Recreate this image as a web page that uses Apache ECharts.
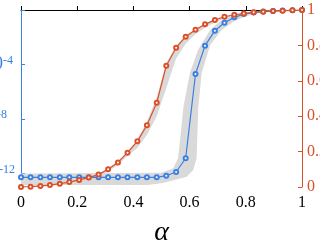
<!DOCTYPE html>
<html><head><meta charset="utf-8">
<script src="https://cdn.jsdelivr.net/npm/echarts@6/dist/echarts.min.js"></script>
<style>html,body{margin:0;padding:0;background:#fff}#c{width:320px;height:240px}</style>
</head><body><div id="c"></div>
<script>
// alpha positions of the markers
var alpha = [0, 0.034, 0.069, 0.103, 0.138, 0.172, 0.207, 0.241, 0.276, 0.310,
  0.345, 0.379, 0.414, 0.448, 0.483, 0.517, 0.552, 0.586, 0.621, 0.655,
  0.690, 0.724, 0.759, 0.793, 0.828, 0.862, 0.897, 0.931, 0.966, 1];
// red series (right axis, linear 0..1)
var redVals = [0.0005, 0.002, 0.006, 0.011, 0.019, 0.028, 0.040, 0.053, 0.070, 0.100,
  0.139, 0.194, 0.258, 0.349, 0.476, 0.685, 0.787, 0.849, 0.888, 0.919,
  0.944, 0.962, 0.973, 0.980, 0.987, 0.990, 0.994, 0.996, 0.998, 1.0];
var redLow = [0, 0.0, 0.003, 0.007, 0.014, 0.023, 0.034, 0.046, 0.062, 0.088,
  0.125, 0.175, 0.22, 0.294, 0.40, 0.56, 0.726, 0.81, 0.865, 0.90,
  0.929, 0.951, 0.966, 0.975, 0.983, 0.987, 0.991, 0.993, 0.995, 0.997];
var redHigh = [0.003, 0.005, 0.009, 0.014, 0.022, 0.031, 0.043, 0.056, 0.074, 0.105,
  0.145, 0.20, 0.268, 0.368, 0.507, 0.70, 0.796, 0.855, 0.893, 0.922,
  0.947, 0.965, 0.976, 0.983, 0.989, 0.992, 0.996, 0.998, 1.0, 1.0];
// blue series (left axis, log10 of value)
var blueLog10 = [-12.29, -12.29, -12.29, -12.29, -12.29, -12.29, -12.29, -12.29, -12.29, -12.29,
  -12.29, -12.29, -12.29, -12.29, -12.29, -12.17, -11.90, -10.89, -4.70, -2.62,
  -1.52, -0.93, -0.54, -0.30, -0.18, -0.11, -0.07, -0.04, -0.02, 0];
// blue band edges (alpha, log10)
var blueBandUpX = [0, 0.50, 0.542, 0.559, 0.566, 0.578, 0.601, 0.630, 0.673, 0.705, 0.75, 0.80, 0.85, 0.90, 1];
var blueBandUpY = [-12.0, -11.95, -11.63, -10.87, -9.55, -7.12, -4.63, -2.94, -1.47, -0.88, -0.42, -0.16, -0.06, -0.02, 0];
var blueBandLoX = [0, 0.45, 0.505, 0.59, 0.613, 0.625, 0.627, 0.631, 0.643, 0.673, 0.714, 0.76, 0.80, 0.85, 0.90, 0.95, 1];
var blueBandLoY = [-12.85, -12.85, -12.7, -12.24, -11.75, -10.87, -9.55, -7.12, -4.63, -2.57, -1.47, -0.8, -0.45, -0.2, -0.09, -0.04, -0.02];
// axis ticks
var xTicks = [0, 0.2, 0.4, 0.6, 0.8, 1];
var leftTicks = [-12, -8, -4, 0];
var leftLabels = [-12, -8, -4];
var rightTicks = [0, 0.2, 0.4, 0.6, 0.8, 1];

var BLUE = '#3a80e0', RED = '#dc5028', BAND = '#d9d9d9';
var SERIF = '"Liberation Serif","DejaVu Serif",serif';

function pairs(xs, ys) { return xs.map(function (x, i) { return [x, ys[i]]; }); }

function bandSeries(upper, lower, yIdx) {
  return {
    type: 'custom', xAxisIndex: 0, yAxisIndex: yIdx, silent: true, z: 1,
    data: [[0, 0]],
    renderItem: function (params, api) {
      var pts = upper.map(function (p) { return api.coord(p); });
      var lo = lower.slice().reverse().map(function (p) { return api.coord(p); });
      return { type: 'polygon', shape: { points: pts.concat(lo) }, style: { fill: BAND } };
    }
  };
}

var padMap = { '-4': 2, '-8': 8, '-12': 0 };
var rich = {};
leftLabels.forEach(function (v) {
  var p = padMap[String(v)] || 0;
  rich['b' + (-v)] = { fontSize: 18, fontFamily: SERIF, color: BLUE, lineHeight: 20 };
  rich['s' + (-v)] = { fontSize: 12, fontFamily: SERIF, color: BLUE, verticalAlign: 'top', padding: [0, p, 0, 0] };
});

var chart = echarts.init(document.getElementById('c'), null, { renderer: 'canvas' });
chart.setOption({
  animation: false,
  grid: { left: 21, right: 18, top: 10, bottom: 53, containLabel: false, outerBoundsMode: 'none' },
  xAxis: {
    type: 'value', min: 0, max: 1, interval: 0.2,
    name: 'α', nameLocation: 'middle', nameGap: 32,
    nameTextStyle: { fontFamily: SERIF, fontStyle: 'italic', fontSize: 28, color: '#000' },
    axisLine: { show: true, lineStyle: { color: '#000', width: 1 } },
    axisTick: { show: true, inside: true, length: 4, lineStyle: { color: '#000' }, customValues: xTicks },
    axisLabel: { fontFamily: SERIF, fontSize: 16, color: '#000', margin: 8, customValues: xTicks,
      formatter: function (v) { return String(+v.toFixed(1)); } },
    splitLine: { show: false }
  },
  yAxis: [{
    type: 'value', min: -13, max: 0, position: 'left',
    axisLine: { show: true, lineStyle: { color: BLUE, width: 1 } },
    axisTick: { show: true, inside: true, length: 4, lineStyle: { color: BLUE }, customValues: leftTicks },
    axisLabel: { margin: 6, customValues: leftLabels, rich: rich,
      formatter: function (v) { var k = -v; return '{b' + k + '|10}{s' + k + '|' + v + '}'; } },
    splitLine: { show: false }
  }, {
    type: 'value', min: 0, max: 1, interval: 0.2, position: 'right',
    axisLine: { show: true, lineStyle: { color: RED, width: 1 } },
    axisTick: { show: true, inside: true, length: 4, lineStyle: { color: RED }, customValues: rightTicks },
    axisLabel: { fontFamily: SERIF, fontSize: 16, color: RED, margin: 5, customValues: rightTicks,
      formatter: function (v) { return String(+v.toFixed(1)); } },
    splitLine: { show: false }
  }],
  series: [
    bandSeries(pairs(blueBandUpX, blueBandUpY), pairs(blueBandLoX, blueBandLoY), 0),
    bandSeries(pairs(alpha, redHigh), pairs(alpha, redLow), 1),
    {
      type: 'line', xAxisIndex: 0, yAxisIndex: 0, z: 3,
      data: pairs(alpha, blueLog10),
      symbol: 'emptyCircle', symbolSize: 4,
      lineStyle: { color: BLUE, width: 1.2 },
      itemStyle: { color: BLUE, borderColor: BLUE, borderWidth: 1 }
    },
    {
      type: 'line', xAxisIndex: 0, yAxisIndex: 1, z: 4,
      data: pairs(alpha, redVals),
      symbol: 'emptyCircle', symbolSize: 4,
      lineStyle: { color: RED, width: 1.2 },
      itemStyle: { color: RED, borderColor: RED, borderWidth: 1 }
    }
  ]
});
</script></body></html>
